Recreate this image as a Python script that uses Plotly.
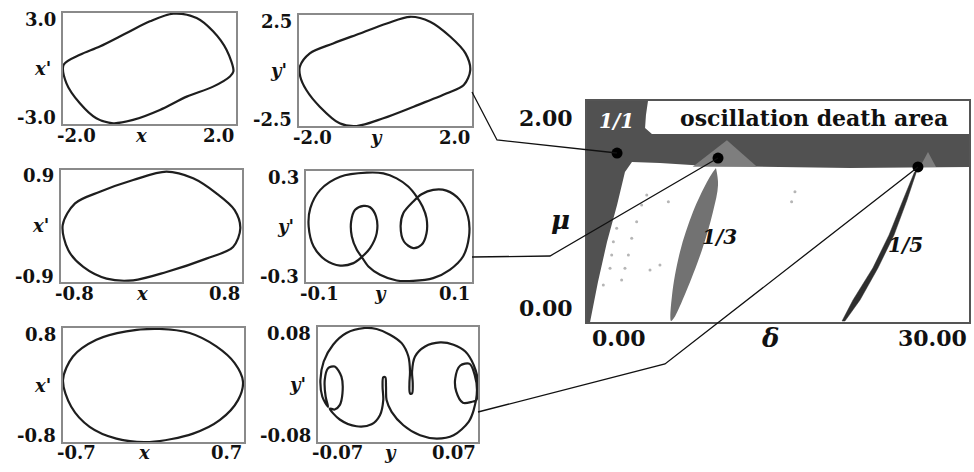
import plotly.graph_objects as go

# ---- phase portraits, points ----
p1_x = [-1.985, -1.61, -1.15, -0.53, 0.01, 0.55, 1.09, 1.47, 1.78, 1.94, 1.86, 1.47, 0.86, 0.24, -0.38, -0.84,
        -1.23, -1.61, -1.92]
p1_v = [0.20, 0.74, 1.19, 1.92, 2.55, 2.96, 2.73, 2.01, 1.01, -0.16, -0.43, -0.98, -1.52, -2.24, -2.78, -2.96,
        -2.69, -1.88, -0.80]

p2_y = [-1.98, -1.75, -1.21, -0.59, 0.03, 0.57, 1.03, 1.50, 1.85, 1.96, 1.81, 1.42, 0.65, -0.05, -0.67, -1.06,
        -1.52, -1.83, -1.97]
p2_v = [0.17, 0.77, 1.22, 1.67, 2.12, 2.42, 2.20, 1.52, 0.77, 0.02, -0.65, -1.03, -1.63, -2.15, -2.50, -2.38,
        -1.63, -0.88, -0.28]

p3_x = [-0.785, -0.676, -0.456, -0.162, 0.132, 0.368, 0.574, 0.735, 0.785, 0.721, 0.485, 0.132, -0.162, -0.397,
        -0.603, -0.735]
p3_v = [0.013, 0.363, 0.551, 0.739, 0.873, 0.766, 0.524, 0.255, -0.040, -0.336, -0.524, -0.739, -0.873, -0.846,
        -0.658, -0.390]

p4_y = [-0.0268, -0.0588, -0.0828, -0.0948, -0.0968, -0.0908, -0.0768, -0.0588, -0.0428, -0.0328, -0.0228,
        -0.0148, -0.0156, -0.0228, -0.0308, -0.0408, -0.0456, -0.0448, -0.0388, -0.0328, -0.0248, -0.0108,
        0.0092, 0.0292, 0.0532, 0.0732, 0.0892, 0.0964, 0.0952, 0.0852, 0.0692, 0.0532, 0.0392, 0.0292, 0.0172,
        0.0140, 0.0180, 0.0292, 0.0392, 0.0452, 0.0452, 0.0404, 0.0332, 0.0232, 0.0092, -0.0068]
p4_v = [0.291, 0.269, 0.198, 0.099, 0.0, -0.108, -0.180, -0.211, -0.198, -0.165, -0.117, -0.036, 0.054, 0.104,
        0.111, 0.090, 0.027, -0.054, -0.126, -0.165, -0.216, -0.261, -0.292, -0.294, -0.279, -0.234, -0.162,
        -0.054, 0.054, 0.144, 0.194, 0.198, 0.174, 0.135, 0.072, 0.0, -0.081, -0.117, -0.099, -0.036, 0.045,
        0.108, 0.162, 0.216, 0.260, 0.287]

p5_x = [-0.700, -0.623, -0.442, -0.210, 0.048, 0.280, 0.486, 0.628, 0.692, 0.654, 0.512, 0.306, -0.030, -0.287,
        -0.494, -0.636]
p5_v = [0.071, 0.400, 0.635, 0.753, 0.786, 0.729, 0.541, 0.306, 0.047, -0.212, -0.494, -0.682, -0.800, -0.753,
        -0.588, -0.306]

p6_y = [-0.0290, -0.0187, -0.0070, 0.0032, 0.0091, 0.0105, 0.0100, 0.0105, 0.0123, 0.0129, 0.0123, 0.0149,
        0.0237, 0.0369, 0.0486, 0.0589, 0.0662, 0.0697, 0.0685, 0.0647, 0.0568, 0.0510, 0.0501, 0.0545, 0.0627,
        0.0671, 0.0691, 0.0662, 0.0618, 0.0486, 0.0340, 0.0193, 0.0047, -0.0056, -0.0100, -0.0105, -0.0111,
        -0.0129, -0.0135, -0.0129, -0.0158, -0.0231, -0.0363, -0.0510, -0.0597, -0.0554, -0.0510, -0.0486,
        -0.0495, -0.0554, -0.0612, -0.0641, -0.0633, -0.0612, -0.0662, -0.0679, -0.0650, -0.0568, -0.0451]
p6_v = [0.0786, 0.0772, 0.0693, 0.0576, 0.0390, 0.0180, 0.0016, -0.0124, -0.0124, 0.0016, 0.0180, 0.0390,
        0.0529, 0.0585, 0.0553, 0.0459, 0.0273, 0.0063, -0.0217, -0.0240, -0.0254, -0.0100, 0.0086, 0.0264,
        0.0287, 0.0133, -0.0077, -0.0357, -0.0520, -0.0707, -0.0753, -0.0707, -0.0567, -0.0380, -0.0217,
        -0.0030, 0.0100, 0.0100, -0.0030, -0.0217, -0.0427, -0.0553, -0.0581, -0.0487, -0.0334, -0.0348,
        -0.0287, -0.0124, 0.0110, 0.0250, 0.0226, 0.0063, -0.0170, -0.0310, -0.0170, 0.0063, 0.0320, 0.0553,
        0.0716]

panel_xrange = [(-2.0, 2.0), (-2.0, 2.0), (-0.8, 0.8), (-0.1, 0.1), (-0.7, 0.7), (-0.07, 0.07)]
panel_yrange = [(-3.0, 3.0), (-2.5, 2.5), (-0.9, 0.9), (-0.3, 0.3), (-0.8, 0.8), (-0.08, 0.08)]
panel_xticks = [("-2.0", "2.0"), ("-2.0", "2.0"), ("-0.8", "0.8"), ("-0.1", "0.1"), ("-0.7", "0.7"),
                ("-0.07", "0.07")]
panel_yticks = [("3.0", "-3.0"), ("2.5", "-2.5"), ("0.9", "-0.9"), ("0.3", "-0.3"), ("0.8", "-0.8"),
                ("0.08", "-0.08")]
panel_names = [("x", "x'"), ("y", "y'"), ("x", "x'"), ("y", "y'"), ("x", "x'"), ("y", "y'")]
curves = [(p1_x, p1_v), (p2_y, p2_v), (p3_x, p3_v), (p4_y, p4_v), (p5_x, p5_v), (p6_y, p6_v)]

# ---- (delta, mu) parameter plane ----
death_d = [0, 4.79, 4.63, 4.56, 5.10, 30.0, 30.0, 20.65, 9.42, 5.73, 3.53, 2.98, 2.36, 1.57, 0.86, 0.39, 0.24, 0]
death_m = [2.0, 2.0, 1.873, 1.756, 1.701, 1.701, 1.403, 1.394, 1.412, 1.439, 1.448, 1.357, 1.059, 0.724, 0.362,
           0.063, 0, 0]
light1_d = [8.3, 10.99, 13.35]
light1_m = [1.405, 1.645, 1.405]
light2_d = [26.15, 26.78, 27.41]
light2_m = [1.403, 1.538, 1.403]
t13_d = [10.13, 10.29, 9.89, 9.03, 7.77, 6.83, 6.60, 6.68, 7.30, 8.32, 9.42, 9.89]
t13_m = [1.394, 1.240, 0.995, 0.652, 0.272, 0.036, 0.009, 0.244, 0.634, 0.995, 1.267, 1.357]
t15_d = [25.92, 25.13, 24.11, 22.85, 21.44, 20.26, 20.03, 20.89, 22.45, 23.72, 24.82, 25.72]
t15_m = [1.376, 1.104, 0.787, 0.489, 0.199, 0.009, 0.009, 0.199, 0.489, 0.787, 1.104, 1.357]
speck_d = [4.29, 3.90, 3.51, 3.25, 2.98, 2.72, 2.33, 2.07, 1.94, 1.81, 1.28, 6.39, 4.95, 5.73, 4.69, 16.33, 16.07]
speck_m = [1.059, 0.908, 0.757, 0.606, 0.486, 0.380, 0.848, 0.727, 0.606, 0.486, 0.335, 1.089, 0.471, 0.516,
           1.149, 1.179, 1.089]
dot_d = [2.36, 10.29, 25.99]
dot_m = [1.529, 1.484, 1.403]
tongue_labels = ["1/1", "1/3", "1/5"]
tongue_label_d = [2.28, 10.44, 25.05]
tongue_label_m = [1.819, 0.769, 0.697]

# leader lines, in page pixels (x right, y down)
leaders = [([472, 497, 617], [92, 140, 153]),
           ([472, 550, 718], [257, 256, 158]),
           ([478, 665, 918], [412, 364, 167])]

W, H = 974, 472
boxes = [(63, 236, 13, 124), (299, 472, 15, 126), (61, 242, 170, 282),
         (306, 472, 171, 282), (63, 244, 328, 442), (318, 478, 327, 442)]
big_box = (587, 969, 101, 322)

SERIF = "DejaVu Serif"
fig = go.Figure()
annotations = []


def dom(box):
    l, r, t, b = box
    return [l / W, r / W], [1 - b / H, 1 - t / H]


for i, (xs, ys) in enumerate(curves):
    n = '' if i == 0 else str(i + 1)
    fig.add_trace(go.Scatter(x=xs + xs[:1], y=ys + ys[:1], mode='lines',
                             line=dict(color='#1e1e1e', width=2.2, shape='spline', smoothing=0.9),
                             xaxis='x' + n, yaxis='y' + n, showlegend=False, hoverinfo='skip'))
    xd, yd = dom(boxes[i])
    fig.layout['xaxis' + n] = dict(domain=xd, range=list(panel_xrange[i]), anchor='y' + n, showline=True,
                                   mirror=True, linecolor='#8a8a8a', linewidth=2, showgrid=False,
                                   zeroline=False, showticklabels=False, ticks='', fixedrange=True)
    fig.layout['yaxis' + n] = dict(domain=yd, range=list(panel_yrange[i]), anchor='x' + n, showline=True,
                                   mirror=True, linecolor='#8a8a8a', linewidth=2, showgrid=False,
                                   zeroline=False, showticklabels=False, ticks='', fixedrange=True)
    xr, yr = 'x' + n + ' domain', 'y' + n + ' domain'
    f = dict(family=SERIF, size=18, color='#111')
    common = dict(xref=xr, yref=yr, showarrow=False, font=f)
    annotations += [
        dict(x=0, y=1, text='<b>%s</b>' % panel_yticks[i][0], xanchor='right', yanchor='middle',
             xshift=-5, yshift=-6, **common),
        dict(x=0, y=0, text='<b>%s</b>' % panel_yticks[i][1], xanchor='right', yanchor='middle',
             xshift=-5, yshift=6, **common),
        dict(x=0, y=0.5, text='<b><i>%s</i></b>' % panel_names[i][1], xanchor='right', yanchor='middle',
             xshift=-10, **common),
        dict(x=0, y=0, text='<b>%s</b>' % panel_xticks[i][0], xanchor='left', yanchor='middle',
             xshift=-8, yshift=-11, **common),
        dict(x=1, y=0, text='<b>%s</b>' % panel_xticks[i][1], xanchor='right', yanchor='middle',
             xshift=0, yshift=-11, **common),
        dict(x=0.45, y=0, text='<b><i>%s</i></b>' % panel_names[i][0], xanchor='center', yanchor='middle',
             yshift=-11, **common),
    ]

# parameter plane
big = dict(xaxis='x7', yaxis='y7', showlegend=False, hoverinfo='skip')
fig.add_trace(go.Scatter(x=death_d, y=death_m, fill='toself', fillcolor='#515151', mode='lines',
                         line=dict(width=0, color='#515151'), **big))
fig.add_trace(go.Scatter(x=light1_d, y=light1_m, fill='toself', fillcolor='#7e7e7e', mode='lines',
                         line=dict(width=0, color='#7e7e7e'), **big))
fig.add_trace(go.Scatter(x=light2_d, y=light2_m, fill='toself', fillcolor='#7e7e7e', mode='lines',
                         line=dict(width=0, color='#7e7e7e'), **big))
fig.add_trace(go.Scatter(x=t13_d, y=t13_m, fill='toself', fillcolor='#727272', mode='lines',
                         line=dict(width=0, color='#727272', shape='spline'), **big))
fig.add_trace(go.Scatter(x=t15_d, y=t15_m, fill='toself', fillcolor='#2e2e2e', mode='lines',
                         line=dict(width=0.5, color='#2e2e2e'), **big))
fig.add_trace(go.Scatter(x=speck_d, y=speck_m, mode='markers',
                         marker=dict(size=3, color='#b5b5b5'), **big))
fig.add_trace(go.Scatter(x=dot_d, y=dot_m, mode='markers', marker=dict(size=11, color='black'), **big))

xd, yd = dom(big_box)
fig.layout['xaxis7'] = dict(domain=xd, range=[0, 30], anchor='y7', showline=True, mirror=True, linecolor='#555',
                            linewidth=2, showgrid=False, zeroline=False, showticklabels=False, ticks='',
                            fixedrange=True)
fig.layout['yaxis7'] = dict(domain=yd, range=[0, 2], anchor='x7', showline=True, mirror=True, linecolor='#555',
                            linewidth=2, showgrid=False, zeroline=False, showticklabels=False, ticks='',
                            fixedrange=True)

bf = dict(family=SERIF, size=22, color='#111')
bc = dict(xref='x7 domain', yref='y7 domain', showarrow=False, font=bf)
annotations += [
    dict(x=0, y=1, text='<b>2.00</b>', xanchor='right', yanchor='middle', xshift=-12, yshift=-17, **bc),
    dict(x=0, y=0, text='<b>0.00</b>', xanchor='right', yanchor='middle', xshift=-12, yshift=14, **bc),
    dict(x=0, y=0, text='<b>0.00</b>', xanchor='left', yanchor='middle', xshift=3, yshift=-16, **bc),
    dict(x=1, y=0, text='<b>30.00</b>', xanchor='right', yanchor='middle', yshift=-16, **bc),
    dict(x=0.479, y=0, text='<b><i>δ</i></b>', xanchor='center', yanchor='middle', yshift=-16,
         xref='x7 domain', yref='y7 domain', showarrow=False, font=dict(family=SERIF, size=26, color='#111')),
    dict(x=0, y=0.462, text='<b><i>μ</i></b>', xanchor='center', yanchor='middle', xshift=-27,
         xref='x7 domain', yref='y7 domain', showarrow=False, font=dict(family=SERIF, size=26, color='#111')),
    dict(x=0.594, y=0.923, text='<b>oscillation death area</b>', xanchor='center', yanchor='middle', **bc),
]
for k, lab in enumerate(tongue_labels):
    annotations.append(dict(x=tongue_label_d[k], y=tongue_label_m[k], xref='x7', yref='y7', showarrow=False,
                            text='<b><i>%s</i></b>' % lab, xanchor='center', yanchor='middle',
                            font=dict(family=SERIF, size=20, color='white' if k == 0 else '#111')))

# leader lines on a full-page overlay axis
for lx, ly in leaders:
    fig.add_trace(go.Scatter(x=lx, y=ly, mode='lines', line=dict(color='#111', width=1.3),
                             xaxis='x8', yaxis='y8', showlegend=False, hoverinfo='skip'))
fig.layout['xaxis8'] = dict(domain=[0, 1], range=[0, W], anchor='y8', visible=False, fixedrange=True)
fig.layout['yaxis8'] = dict(domain=[0, 1], range=[H, 0], anchor='x8', visible=False, fixedrange=True)

fig.update_layout(width=W, height=H, margin=dict(l=0, r=0, t=0, b=0), paper_bgcolor='white',
                  plot_bgcolor='rgba(0,0,0,0)', annotations=annotations, showlegend=False)
fig.write_html("out.html", config={'displayModeBar': False},
               post_script="document.body.style.margin='0';document.body.style.overflow='hidden';")
